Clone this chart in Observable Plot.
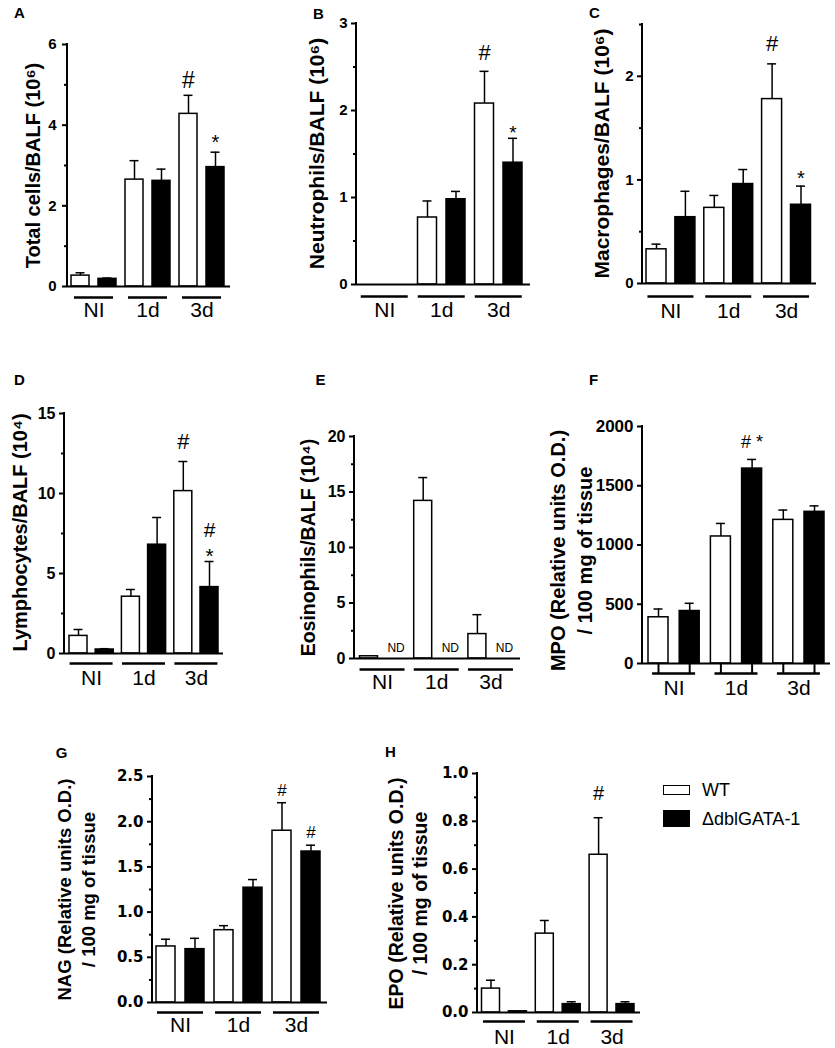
<!DOCTYPE html>
<html><head><meta charset="utf-8">
<script src="https://cdn.jsdelivr.net/npm/d3@7"></script>
<script src="https://cdn.jsdelivr.net/npm/@observablehq/plot@0.6"></script>
<style>
body{margin:0;background:#fff;}
#fig{position:relative;width:835px;height:1048px;overflow:hidden;background:#fff;font-family:"Liberation Sans",Arial,sans-serif;color:#000;}
.panel{position:absolute;}
.panel svg{overflow:visible;}
.lg-box{position:absolute;box-sizing:border-box;}
.lg-txt{position:absolute;font-size:18px;line-height:18px;transform:translateY(-50%);white-space:nowrap;}
</style></head><body><div id="fig"></div>
<script>
// ---------- data ----------
const groups = ["NI", "1d", "3d"];
const strains = ["WT", "ΔdblGATA-1"];

// A  Total cells/BALF (10^6)
const totalWT = [0.27, 2.65, 4.28], totalWTsem = [0.07, 0.47, 0.46];
const totalKO = [0.19, 2.62, 2.96], totalKOsem = [0.02, 0.29, 0.37];
const totalMarks = ["", "", "", "", "#", "*"];
// B  Neutrophils/BALF (10^6)
const neutWT = [0, 0.77, 2.08], neutWTsem = [0, 0.19, 0.37];
const neutKO = [0, 0.98, 1.40], neutKOsem = [0, 0.09, 0.28];
const neutMarks = ["", "", "", "", "#", "*"];
// C  Macrophages/BALF (10^6)
const macWT = [0.33, 0.73, 1.78], macWTsem = [0.05, 0.12, 0.34];
const macKO = [0.64, 0.96, 0.76], macKOsem = [0.25, 0.14, 0.18];
const macMarks = ["", "", "", "", "#", "*"];
// D  Lymphocytes/BALF (10^4)
const lymWT = [1.1, 3.55, 10.15], lymWTsem = [0.4, 0.45, 1.85];
const lymKO = [0.25, 6.8, 4.15], lymKOsem = [0.05, 1.7, 1.6];
const lymMarks = ["", "", "", "", "#", "#\n*"];
// E  Eosinophils/BALF (10^4)  (ΔdblGATA-1: not detected)
const eosWT = [0.2, 14.2, 2.2], eosWTsem = [0, 2.1, 1.75];
const eosKO = null, eosKOsem = null;
// F  MPO
const mpoWT = [390, 1072, 1212], mpoWTsem = [70, 110, 83];
const mpoKO = [443, 1645, 1280], mpoKOsem = [65, 77, 50];
const mpoMarks = ["", "", "", "# *", "", ""];
// G  NAG
const nagWT = [0.62, 0.80, 1.90], nagWTsem = [0.08, 0.05, 0.31];
const nagKO = [0.59, 1.27, 1.67], nagKOsem = [0.12, 0.09, 0.07];
const nagMarks = ["", "", "", "", "#", "#"];
// H  EPO
const epoWT = [0.10, 0.33, 0.66], epoWTsem = [0.035, 0.055, 0.155];
const epoKO = [0.005, 0.035, 0.035], epoKOsem = [0, 0.01, 0.01];
const epoMarks = ["", "", "", "", "#", ""];

// tick values
const ticksA = [0, 2, 4, 6], minorA = [1, 3, 5];
const ticksB = [0, 1, 2, 3], minorB = [0.5, 1.5, 2.5];
const ticksC = [0, 1, 2], minorC = [0.5, 1.5, 2.5];
const ticksD = [0, 5, 10, 15], minorD = [2.5, 7.5, 12.5];
const ticksE = [0, 5, 10, 15, 20], minorE = [2.5, 7.5, 12.5, 17.5];
const ticksF = [0, 500, 1000, 1500, 2000], minorF = [];
const ticksG = [0, 0.5, 1.0, 1.5, 2.0, 2.5], minorG = [0.25, 0.75, 1.25, 1.75, 2.25];
const ticksH = [0, 0.2, 0.4, 0.6, 0.8, 1.0], minorH = [0.1, 0.3, 0.5, 0.7, 0.9];

// ---------- helpers ----------
function makeRows(wt, wtSem, ko, koSem, marks) {
  const rows = [];
  groups.forEach((g, gi) => {
    [[wt, wtSem], [ko, koSem]].forEach(([v, s], si) => {
      const k = gi * 2 + si;
      rows.push({i: k, group: g, strain: strains[si],
        value: v == null ? null : v[gi], sem: s == null ? 0 : s[gi],
        mark: marks ? marks[k] : ""});
    });
  });
  return rows;
}

const SVGNS = "http://www.w3.org/2000/svg";
function yAxisLine(index, scales, values, dims) {
  const l = document.createElementNS(SVGNS, "line");
  l.setAttribute("x1", dims.marginLeft); l.setAttribute("x2", dims.marginLeft);
  l.setAttribute("y1", dims.marginTop - 1); l.setAttribute("y2", dims.height - dims.marginBottom + 1);
  l.setAttribute("stroke", "black"); l.setAttribute("stroke-width", 2);
  return l;
}

const fig = document.getElementById("fig");

function panel(c, rows) {
  const step = (c.c5 - c.c0) / 5;
  const mL = c.axisX - c.box.left, mR = c.box.left + c.box.w - c.axisEnd;
  const mT = c.yTop - c.box.top, mB = c.box.top + c.box.h - c.y0;
  const hw = c.halfPx / step, cap = (c.capPx || 4.5) / step, uh = c.ulHalfPx / step;
  const at = (px, py) => ({frameAnchor: "top-left", dx: px - c.axisX, dy: py - c.yTop});
  const barRows = rows.filter(d => d.value != null);
  const errRows = barRows.filter(d => d.sem > 0);
  const hashRows = rows.filter(d => d.mark && !d.mark.endsWith("*"));
  const starRows = rows.filter(d => d.mark && d.mark.endsWith("*") && d.mark !== "# *");
  const comboRows = rows.filter(d => d.mark === "# *");
  const tickFont = c.tickFont || "Liberation Sans, Arial, sans-serif";
  const marks = [
    // error bars (upper SEM)
    Plot.ruleX(errRows, {x: "i", y1: "value", y2: d => d.value + d.sem, stroke: "black", strokeWidth: 1.5}),
    Plot.ruleY(errRows, {y: d => d.value + d.sem, x1: d => d.i - cap, x2: d => d.i + cap, stroke: "black", strokeWidth: 1.5}),
    // bars
    Plot.rect(barRows, {x1: d => d.i - hw, x2: d => d.i + hw, y1: () => 0, y2: "value",
      fill: d => d.strain === "WT" ? "white" : "black", stroke: "black", strokeWidth: 1.5}),
    // axes
    Plot.axisY({ticks: c.ticks, tickSize: 5, tickPadding: c.tickPad || 4, tickFormat: c.fmt || (d => String(d)),
      label: null, fontSize: c.tickSize, fontWeight: "bold", fontFamily: tickFont, strokeWidth: 2}),
    yAxisLine,
    Plot.ruleY([0], {stroke: "black", strokeWidth: 2}),
    // group underlines and labels
    Plot.ruleY(groups, {y: () => 0, x1: (d, k) => 2 * k + 0.5 - uh, x2: (d, k) => 2 * k + 0.5 + uh,
      dy: c.ulDy, stroke: "black", strokeWidth: 2.5}),
    Plot.text(groups, {x: (d, k) => 2 * k + 0.5, y: () => 0, text: d => d, dy: c.labelDy,
      fontSize: c.labelSize || 21, fill: "black"}),
    // y title
    Plot.text([c.title], {...at(c.titleX, c.titleY), text: d => d, rotate: -90, textAnchor: "middle", lineAnchor: "middle",
      fontSize: c.titleSize, fontWeight: "bold", lineHeight: c.titleLH || 1.2, fill: "black"}),
    // panel letter
    Plot.text([c.letter], {...at(c.letterX, c.letterY), text: d => d, textAnchor: "middle", lineAnchor: "middle",
      fontSize: 15, fontWeight: "bold", fill: "black"}),
    // significance marks
    Plot.text(hashRows, {x: "i", y: d => d.value + d.sem, text: "mark", lineAnchor: "bottom", dy: -c.hashGap,
      fontSize: c.hashSize, lineHeight: 1.2, fill: "black"}),
    Plot.text(starRows, {x: "i", y: d => d.value + d.sem, text: "mark", lineAnchor: "bottom", dy: -c.starGap,
      fontSize: c.starSize || 20, lineHeight: 1.2, fill: "black"}),
    Plot.text(comboRows, {x: "i", y: d => d.value + d.sem, text: "mark", lineAnchor: "bottom", dy: -c.hashGap,
      fontSize: c.hashSize, fill: "black"})
  ];
  if (c.minor && c.minor.length) {
    marks.push(Plot.axisY({ticks: c.minor, tickSize: 3, tickFormat: () => "", label: null, strokeWidth: 2}));
  }
  if (c.xTicks) {
    marks.push(Plot.axisX({ticks: barRows.map(d => d.i), tickSize: 10, tickFormat: () => "", label: null, strokeWidth: 2}));
  }
  if (c.nd) {
    marks.push(Plot.text(rows.filter(d => d.value == null), {x: "i", y: () => 0, text: () => "ND", dy: -10, fontSize: 12, fill: "black"}));
  }
  const p = Plot.plot({
    width: c.box.w, height: c.box.h,
    marginLeft: mL, marginRight: mR, marginTop: mT, marginBottom: mB,
    x: {type: "linear", domain: [0, 5], range: [c.c0 - c.box.left, c.c5 - c.box.left], axis: null},
    y: {domain: [0, c.ymax], axis: null},
    style: {background: "transparent", fontFamily: "Liberation Sans, Arial, sans-serif", color: "black", overflow: "visible"},
    marks
  });
  const div = document.createElement("div");
  div.className = "panel";
  div.style.left = c.box.left + "px"; div.style.top = c.box.top + "px";
  div.style.width = c.box.w + "px"; div.style.height = c.box.h + "px";
  div.appendChild(p);
  fig.appendChild(div);
}

const f1 = d3.format(".1f");

panel({box: {left: 0, top: 0, w: 280, h: 330}, axisX: 67, y0: 286, yTop: 44, ymax: 6, axisEnd: 230,
  c0: 80, c5: 215, halfPx: 9, ulDy: 11, ulHalfPx: 19.5, labelDy: 24,
  ticks: ticksA, minor: minorA, tickSize: 15, tickPad: 6,
  title: "Total cells/BALF (10⁶)", titleX: 32, titleY: 165, titleSize: 20,
  letter: "A", letterX: 19, letterY: 13, hashGap: 7, hashSize: 23, starGap: 3, starSize: 20},
  makeRows(totalWT, totalWTsem, totalKO, totalKOsem, totalMarks));

panel({box: {left: 280, top: 0, w: 275, h: 330}, axisX: 356, y0: 284, yTop: 23, ymax: 3, axisEnd: 530,
  c0: 370, c5: 512.5, halfPx: 9.5, ulDy: 12, ulHalfPx: 23.5, labelDy: 26,
  ticks: ticksB, minor: minorB, tickSize: 15,
  title: "Neutrophils/BALF (10⁶)", titleX: 315, titleY: 153, titleSize: 21,
  letter: "B", letterX: 318, letterY: 14, hashGap: 11, hashSize: 22, starGap: -1, starSize: 19},
  makeRows(neutWT, neutWTsem, neutKO, neutKOsem, neutMarks));

panel({box: {left: 555, top: 0, w: 280, h: 330}, axisX: 642, y0: 283, yTop: 24, ymax: 2.5, axisEnd: 816,
  c0: 656, c5: 800.5, halfPx: 10, ulDy: 13, ulHalfPx: 23, labelDy: 28,
  ticks: ticksC, minor: minorC, tickSize: 15,
  title: "Macrophages/BALF (10⁶)", titleX: 600, titleY: 153, titleSize: 21,
  letter: "C", letterX: 594, letterY: 13, hashGap: 13, hashSize: 22, starGap: 1, starSize: 20},
  makeRows(macWT, macWTsem, macKO, macKOsem, macMarks));

panel({box: {left: 0, top: 330, w: 280, h: 370}, axisX: 64, y0: 653, yTop: 413, ymax: 15, axisEnd: 223,
  c0: 78, c5: 209, halfPx: 9, ulDy: 10, ulHalfPx: 21.5, labelDy: 25,
  ticks: ticksD, minor: minorD, tickSize: 16,
  title: "Lymphocytes/BALF (10⁴)", titleX: 19, titleY: 532, titleSize: 20,
  letter: "D", letterX: 19, letterY: 380, hashGap: 12.6, hashSize: 22, starGap: -1, starSize: 21},
  makeRows(lymWT, lymWTsem, lymKO, lymKOsem, lymMarks));

panel({box: {left: 280, top: 330, w: 260, h: 370}, axisX: 354, y0: 658, yTop: 436, ymax: 20, axisEnd: 520,
  c0: 368.5, c5: 504, halfPx: 9, ulDy: 11, ulHalfPx: 22.5, labelDy: 24,
  ticks: ticksE, minor: minorE, tickSize: 16, nd: true,
  title: "Eosinophils/BALF (10⁴)", titleX: 307, titleY: 547, titleSize: 19.5,
  letter: "E", letterX: 320, letterY: 380, hashGap: 10, hashSize: 22, starGap: 0},
  makeRows(eosWT, eosWTsem, eosKO, eosKOsem, null));

panel({box: {left: 540, top: 330, w: 295, h: 370}, axisX: 642, y0: 663, yTop: 426, ymax: 2000, axisEnd: 830,
  c0: 658, c5: 814, halfPx: 10, ulDy: 10, ulHalfPx: 21.5, labelDy: 25, xTicks: true,
  ticks: ticksF, minor: minorF, tickSize: 17,
  title: "MPO (Relative units O.D.)\n/ 100 mg of tissue", titleX: 569, titleY: 550, titleSize: 20, titleLH: 1.35,
  letter: "F", letterX: 593, letterY: 380, hashGap: 11, hashSize: 18, starGap: 0},
  makeRows(mpoWT, mpoWTsem, mpoKO, mpoKOsem, mpoMarks));

panel({box: {left: 0, top: 700, w: 335, h: 348}, axisX: 152, y0: 1002, yTop: 776, ymax: 2.5, axisEnd: 327,
  c0: 165.5, c5: 310.5, halfPx: 9.5, ulDy: 10, ulHalfPx: 23, labelDy: 23, fmt: f1,
  ticks: ticksG, minor: minorG, tickSize: 15, tickFont: "DejaVu Sans, sans-serif",
  title: "NAG (Relative units O.D.)\n/ 100 mg of tissue", titleX: 74.5, titleY: 889, titleSize: 18.5, titleLH: 1.35,
  letter: "G", letterX: 61, letterY: 753, hashGap: 7, hashSize: 17, starGap: 0},
  makeRows(nagWT, nagWTsem, nagKO, nagKOsem, nagMarks));

panel({box: {left: 335, top: 700, w: 320, h: 348}, axisX: 477, y0: 1012, yTop: 773, ymax: 1.0, axisEnd: 640,
  c0: 490.5, c5: 625, halfPx: 9, ulDy: 9, ulHalfPx: 21, labelDy: 25, fmt: f1,
  ticks: ticksH, minor: minorH, tickSize: 15, tickFont: "DejaVu Sans, sans-serif",
  title: "EPO (Relative units O.D.)\n/ 100 mg of tissue", titleX: 406.5, titleY: 893, titleSize: 19.5, titleLH: 1.28,
  letter: "H", letterX: 390, letterY: 752, hashGap: 18, hashSize: 20, starGap: 0},
  makeRows(epoWT, epoWTsem, epoKO, epoKOsem, epoMarks));

// ---------- legend ----------
const legendFill = ["white", "black"];
const legendBoxes = [{top: 785, h: 10}, {top: 810, h: 17}];
strains.forEach((s, k) => {
  const b = document.createElement("div");
  b.className = "lg-box";
  Object.assign(b.style, {left: "663px", top: legendBoxes[k].top + "px", width: "27px", height: legendBoxes[k].h + "px",
    background: legendFill[k], border: "1.5px solid black"});
  fig.appendChild(b);
  const t = document.createElement("div");
  t.className = "lg-txt";
  t.textContent = s;
  Object.assign(t.style, {left: "702px", top: (k === 0 ? 790 : 819) + "px"});
  fig.appendChild(t);
});
</script></body></html>
